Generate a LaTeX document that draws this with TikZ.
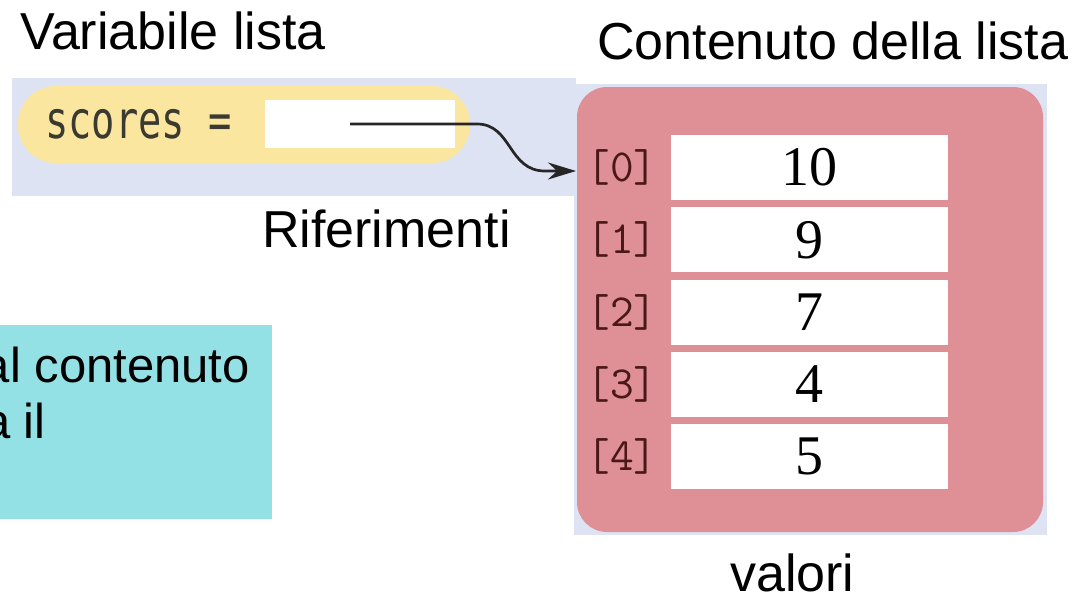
\documentclass[tikz,border=0pt]{standalone}
\usepackage{fontspec}
\usepackage{graphicx}
\newfontfamily\sansf{Liberation Sans}
\newfontfamily\seriff{Liberation Serif}
\newfontfamily\monof{DejaVu Sans Mono}
\usetikzlibrary{arrows.meta}
\definecolor{varbg}{HTML}{DDE3F2}
\definecolor{pillc}{HTML}{FBE6A0}
\definecolor{redc}{HTML}{DF8F96}
\definecolor{cyanc}{HTML}{94E1E5}
\definecolor{idxcol}{HTML}{4A1818}
\definecolor{codec}{HTML}{3B3A30}
\begin{document}
\begin{tikzpicture}[x=1pt,y=-1pt,
  lbl/.style={font=\sansf\fontsize{52}{60}\selectfont, inner sep=0pt, anchor=base west},
  notetxt/.style={font=\sansf\fontsize{49}{56}\selectfont, inner sep=0pt, anchor=base east},
  cellbox/.style={fill=white, minimum width=277pt, minimum height=65pt, inner sep=0pt, font=\seriff\fontsize{56}{60}\selectfont},
  idx/.style={font=\ttfamily\fontsize{46}{50}\selectfont, text=idxcol, inner sep=0pt},
  ptrline/.style={line width=2.7pt, draw=black!85, -{Stealth[length=28pt,width=17pt]}},
]
\clip (0,0) rectangle (1089,597);
\fill[white] (0,0) rectangle (1089,597);
% titles
\node[lbl] (t1) at (20,49) {Variabile lista};
\node[lbl] (t2) at (597,59) {Contenuto della lista};
% variable area
\node[fill=varbg, minimum width=564pt, minimum height=118pt, inner sep=0pt] (varbox) at (294,137) {};
\node[fill=pillc, rounded corners=38pt, minimum width=452pt, minimum height=77pt, inner sep=0pt] (pill) at (244,124.5) {};
\node[fill=white, minimum width=190pt, minimum height=48pt, inner sep=0pt] (ref) at (360,124) {};
\node[font=\monof\fontsize{52}{60}\selectfont, text=codec, inner sep=0pt, anchor=base west] (code) at (45,138) {\scalebox{0.745}[1]{scores =}};
% list contents
\fill[varbg] (574,84) rectangle (1047,535);
\node[fill=redc, rounded corners=30pt, minimum width=466pt, minimum height=445pt, inner sep=0pt] (arr) at (810,309.5) {};
\foreach \i/\v in {0/10,1/9,2/7,3/4,4/5}{
  \node[cellbox] (c\i) at (809,167.5+72.25*\i) {\v};
  \node[idx] (i\i) at (622,167.5+72.25*\i) {[\i]};
}
% arrow
\coordinate (ptr) at (350,124);
\coordinate (bend) at (477,124);
\coordinate (pre) at (545,171);
\coordinate (tip) at (576,171);
\draw[ptrline] (ptr) -- (bend) .. controls (512,124) and (508,171) .. (pre) -- (tip);
% labels
\node[lbl] (rif) at (262,247) {Riferimenti};
\node[lbl] (val) at (730,591) {valori};
% cyan note
\node[fill=cyanc, minimum width=282pt, minimum height=194pt, inner sep=0pt] (note) at (131,422) {};
\node[notetxt] (n1) at (250,382) {al contenuto};
\node[notetxt] (n2) at (46,438) {a il};
\end{tikzpicture}
\end{document}
